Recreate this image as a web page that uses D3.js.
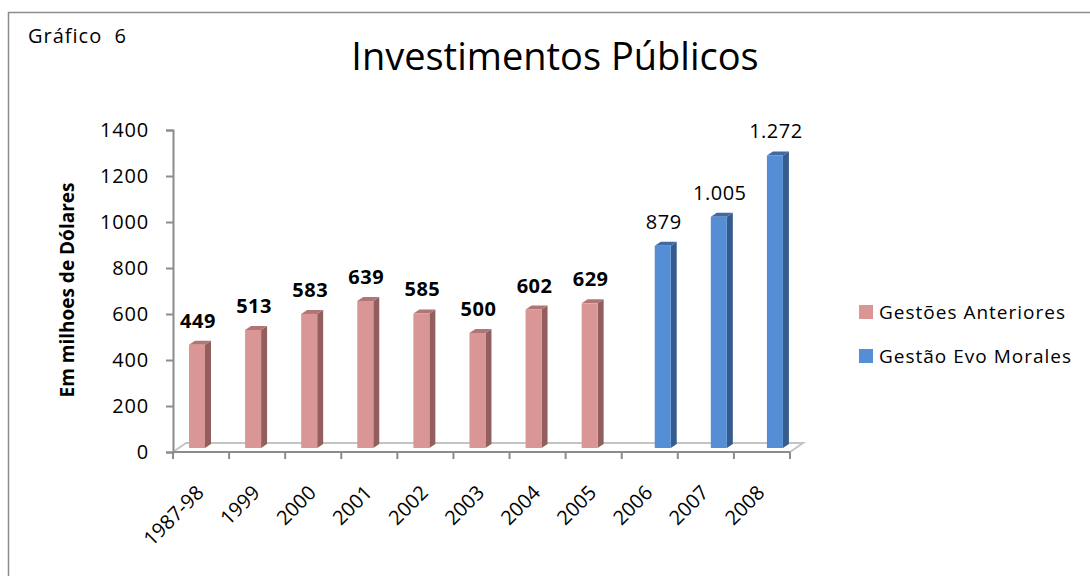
<!DOCTYPE html>
<html>
<head>
<meta charset="utf-8">
<script src="https://cdn.jsdelivr.net/npm/d3@7"></script>
<style>
  body { margin: 0; background: #fff; }
  text { font-family: "Open Sans", sans-serif; fill: #000; }
</style>
</head>
<body>
<div id="chart"></div>
<script>
// chart data
const categories = ["1987-98", "1999", "2000", "2001", "2002", "2003", "2004", "2005", "2006", "2007", "2008"];
const seriesNames = ["Gestões Anteriores", "Gestão Evo Morales"];
const anteriores = [449, 513, 583, 639, 585, 500, 602, 629, null, null, null];
const evoMorales = [null, null, null, null, null, null, null, null, 879, 1005, 1272];
const yTicks = [0, 200, 400, 600, 800, 1000, 1200, 1400];

const W = 1090, H = 576;
const svg = d3.select("#chart").append("svg")
  .attr("width", W)
  .attr("height", H);

// frame (only top and left sides visible)
svg.append("path")
  .attr("d", `M8.5,${H} L8.5,12.5 L${W},12.5`)
  .attr("fill", "none")
  .attr("stroke", "#8c8c8c")
  .attr("stroke-width", 1.5);

svg.append("text")
  .attr("x", 28).attr("y", 43)
  .attr("font-size", 20)
  .attr("letter-spacing", 1)
  .style("white-space", "pre")
  .text("Gráfico  6");

svg.append("text")
  .attr("x", 555).attr("y", 70)
  .attr("text-anchor", "middle")
  .attr("font-size", 38)
  .text("Investimentos Públicos");

// scales
const x = d3.scaleBand().domain(categories).range([173, 790]);
const xs = d3.scaleBand().domain(seriesNames).range([16, 49]).paddingInner(1 / 17);
const y = d3.scaleLinear().domain([0, 1400]).range([452, 130]);

const dx = 6, dy = 4;  // 3D depth shift
const lift = 4;        // bars stand on the floor, slightly behind the axis

// floor (back edge + diagonals)
svg.append("path")
  .attr("d", `M${x.range()[0]},${y(0)} L${x.range()[0] + 13},${y(0) - 9} L${x.range()[1] + 13},${y(0) - 9} L${x.range()[1]},${y(0)}`)
  .attr("fill", "none")
  .attr("stroke", "#c4c4c4")
  .attr("stroke-width", 2);

// y axis
const yAxis = svg.append("g")
  .attr("transform", `translate(${x.range()[0]},0)`)
  .call(d3.axisLeft(y).tickValues(yTicks).tickSize(7).tickPadding(17).tickFormat(d3.format("d")));
yAxis.select(".domain").attr("stroke", "#8c8c8c").attr("stroke-width", 2);
yAxis.selectAll(".tick line").attr("stroke", "#8c8c8c").attr("stroke-width", 2);
yAxis.selectAll(".tick text")
  .attr("font-size", 20)
  .attr("letter-spacing", 0.8)
  .attr("font-family", "Open Sans, sans-serif")
  .attr("fill", "#000");

svg.append("text")
  .attr("transform", "translate(74,290) rotate(-90)")
  .attr("text-anchor", "middle")
  .attr("font-size", 19)
  .attr("font-weight", "bold")
  .text("Em milhoes de Dólares");

// x axis: ticks at band boundaries
const xAxis = svg.append("g").attr("transform", `translate(0,${y(0)})`);
xAxis.append("line")
  .attr("x1", x.range()[0]).attr("x2", x.range()[1])
  .attr("stroke", "#8c8c8c").attr("stroke-width", 2);
const bounds = categories.map(c => x(c)).concat([x.range()[1]]);
xAxis.selectAll("line.tk")
  .data(bounds)
  .join("line")
  .attr("class", "tk")
  .attr("x1", d => d).attr("x2", d => d)
  .attr("y1", 0).attr("y2", 7)
  .attr("stroke", "#8c8c8c").attr("stroke-width", 2);
xAxis.selectAll("text")
  .data(categories)
  .join("text")
  .attr("transform", d => `translate(${x(d) + x.bandwidth() / 2 + 4},42) rotate(-45)`)
  .attr("text-anchor", "end")
  .attr("font-size", 20)
  .text(d => d);

// bars
const fmt = d3.formatLocale({ decimal: ",", thousands: ".", grouping: [3], currency: ["", ""] }).format(",d");
const styles = {
  "Gestões Anteriores": { front: "#d99694", side: "#925f5e", top: "#b07574", bold: true },
  "Gestão Evo Morales": { front: "#558ed5", side: "#365c8f", top: "#3f6aa6", bold: false }
};

const rows = [];
categories.forEach((c, i) => {
  if (anteriores[i] != null) rows.push({ cat: c, series: seriesNames[0], value: anteriores[i] });
  if (evoMorales[i] != null) rows.push({ cat: c, series: seriesNames[1], value: evoMorales[i] });
});

const bw = xs.bandwidth();
const bars = svg.append("g").selectAll("g")
  .data(rows)
  .join("g");

bars.each(function(d) {
  const g = d3.select(this);
  const st = styles[d.series];
  const x0 = x(d.cat) + xs(d.series);
  const top = y(d.value) - lift;
  const bot = y(0) - lift;
  // side face
  g.append("path")
    .attr("d", `M${x0 + bw},${top} L${x0 + bw + dx},${top - dy} L${x0 + bw + dx},${bot - dy} L${x0 + bw},${bot} Z`)
    .attr("fill", st.side);
  // top face
  g.append("path")
    .attr("d", `M${x0},${top} L${x0 + dx},${top - dy} L${x0 + bw + dx},${top - dy} L${x0 + bw},${top} Z`)
    .attr("fill", st.top);
  // front face
  g.append("rect")
    .attr("x", x0).attr("y", top)
    .attr("width", bw).attr("height", bot - top)
    .attr("fill", st.front);
  // data label
  g.append("text")
    .attr("x", x0 + bw / 2 + 1)
    .attr("y", top - 17)
    .attr("text-anchor", "middle")
    .attr("font-size", 20)
    .attr("letter-spacing", 0.5)
    .attr("font-weight", st.bold ? "bold" : "normal")
    .text(fmt(d.value));
});

// legend
const legend = svg.append("g").attr("transform", "translate(859,305)");
legend.selectAll("rect")
  .data(seriesNames)
  .join("rect")
  .attr("x", 0).attr("y", (d, i) => i * 44)
  .attr("width", 14).attr("height", 14)
  .attr("fill", d => styles[d].front);
legend.selectAll("text")
  .data(seriesNames)
  .join("text")
  .attr("x", 20).attr("y", (d, i) => i * 44 + 14)
  .attr("font-size", 19)
  .attr("letter-spacing", 1)
  .text(d => d);
</script>
</body>
</html>
